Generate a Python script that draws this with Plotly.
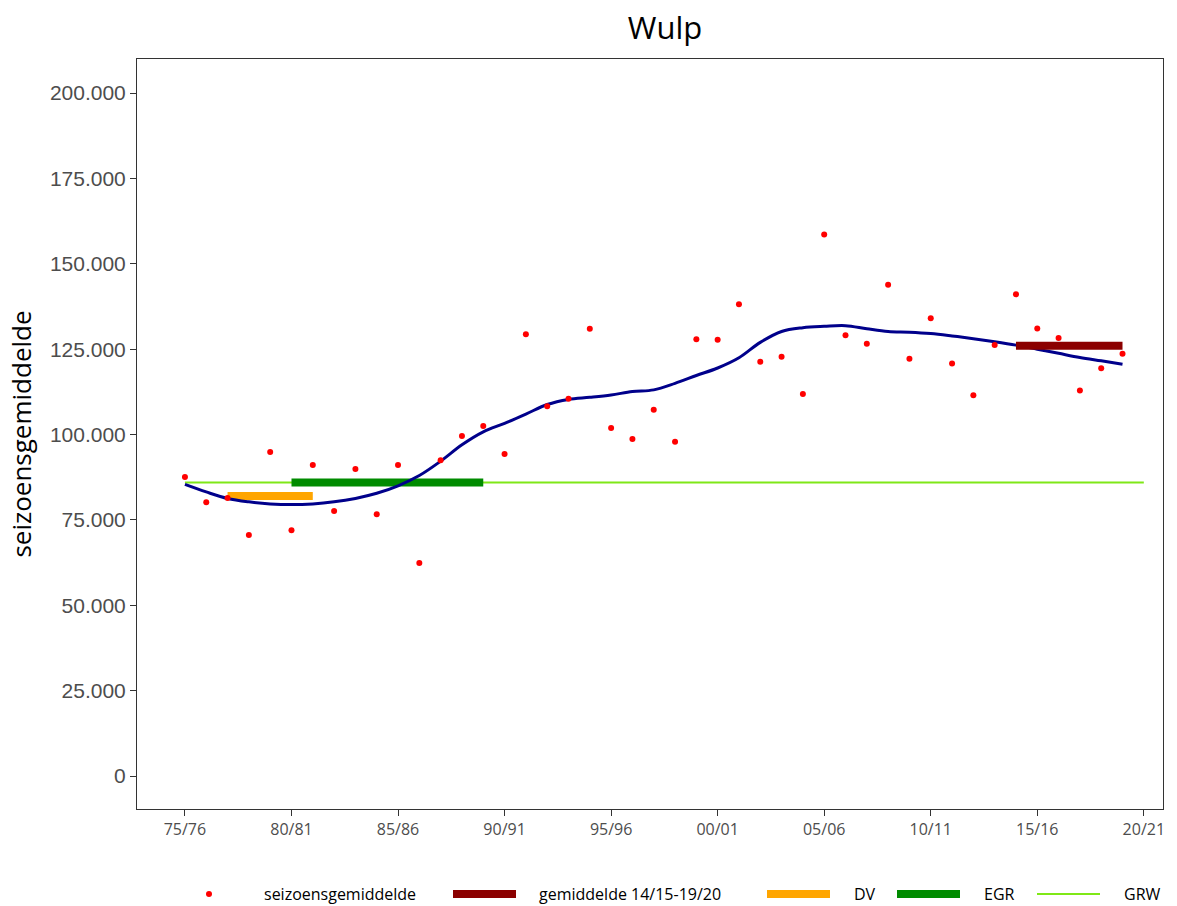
import plotly.graph_objects as go

# season index: 0 = 75/76 ... 44 = 19/20
seasons = list(range(45))
seizoensgemiddelde = [87.6, 80.2, 81.4, 70.6, 94.9, 72.0, 91.1, 77.6, 89.9, 76.7,
                      91.1, 62.4, 92.5, 99.6, 102.5, 94.3, 129.4, 108.3, 110.5, 131.0,
                      101.9, 98.7, 107.3, 97.9, 127.9, 127.8, 138.2, 121.3, 122.8, 111.9,
                      158.6, 129.1, 126.6, 143.9, 122.2, 134.1, 120.8, 111.5, 126.2, 141.1,
                      131.1, 128.3, 112.9, 119.4, 123.7]
seizoensgemiddelde = [v * 1000 for v in seizoensgemiddelde]

trend = [85.4, 83.2, 81.3, 80.3, 79.7, 79.5, 79.7, 80.3, 81.3, 82.8,
         85.0, 88.0, 92.2, 97.0, 100.8, 103.3, 106.0, 108.8, 110.3, 110.9,
         111.6, 112.6, 113.1, 115.0, 117.3, 119.5, 122.5, 127.0, 130.2, 131.3,
         131.7, 131.9, 131.0, 130.2, 130.0, 129.6, 128.9, 128.1, 127.2, 126.2,
         125.0, 123.8, 122.6, 121.6, 120.6]
trend = [v * 1000 for v in trend]

gem_x = [39, 44]
gem_y = [126000, 126000]
dv_x = [2, 6]
dv_y = [82000, 82000]
egr_x = [5, 14]
egr_y = [86000, 86000]
grw_x = [0, 45]
grw_y = [86000, 86000]

xtick_vals = [0, 5, 10, 15, 20, 25, 30, 35, 40, 45]
xtick_text = ["75/76", "80/81", "85/86", "90/91", "95/96", "00/01", "05/06", "10/11", "15/16", "20/21"]
ytick_vals = [0, 25000, 50000, 75000, 100000, 125000, 150000, 175000, 200000]
ytick_text = ["0", "25.000", "50.000", "75.000", "100.000", "125.000", "150.000", "175.000", "200.000"]

legend_names = ["seizoensgemiddelde", "gemiddelde 14/15-19/20", "DV", "EGR", "GRW"]
legend_colors = ["#FF0000", "#8B0000", "#FFA500", "#008B00", "#7FE817"]
legend_widths = [0, 8, 8, 8, 2]

W, H = 1177, 906
ML, MR, MT, MB = 137, 14, 59, 97
PW, PH = W - ML - MR, H - MT - MB

def px(xp):
    return (xp - ML) / PW

def py(yp):
    return (H - MB - yp) / PH

fig = go.Figure()
fig.add_trace(go.Scatter(x=grw_x, y=grw_y, mode="lines", name="GRW", showlegend=False,
                         line=dict(color=legend_colors[4], width=2)))
fig.add_trace(go.Scatter(x=egr_x, y=egr_y, mode="lines", name="EGR", showlegend=False,
                         line=dict(color=legend_colors[3], width=8)))
fig.add_trace(go.Scatter(x=dv_x, y=dv_y, mode="lines", name="DV", showlegend=False,
                         line=dict(color=legend_colors[2], width=8)))
fig.add_trace(go.Scatter(x=seasons, y=trend, mode="lines", showlegend=False,
                         line=dict(color="#00008B", width=3, shape="spline", smoothing=1)))
fig.add_trace(go.Scatter(x=gem_x, y=gem_y, mode="lines", name="gemiddelde 14/15-19/20", showlegend=False,
                         line=dict(color=legend_colors[1], width=8)))
fig.add_trace(go.Scatter(x=seasons, y=seizoensgemiddelde, mode="markers", name="seizoensgemiddelde",
                         showlegend=False, marker=dict(color=legend_colors[0], size=6)))

# manual legend at the bottom (layout, in pixel-derived paper coordinates)
leg_y = 894
key_left = [None, 453, 767, 897, 1037]
text_left = [262, 537, 852, 982, 1122]
shapes = []
annotations = []
for i, name in enumerate(legend_names):
    if i == 0:
        shapes.append(dict(type="circle", xref="paper", yref="paper",
                           x0=px(206), x1=px(212), y0=py(leg_y + 3), y1=py(leg_y - 3),
                           fillcolor=legend_colors[0], line=dict(width=0)))
    else:
        shapes.append(dict(type="line", xref="paper", yref="paper",
                           x0=px(key_left[i]), x1=px(key_left[i] + 63),
                           y0=py(leg_y), y1=py(leg_y),
                           line=dict(color=legend_colors[i], width=legend_widths[i])))
    annotations.append(dict(text=name, xref="paper", yref="paper", x=px(text_left[i]), y=py(leg_y),
                            xanchor="left", yanchor="middle", showarrow=False,
                            font=dict(family="Open Sans", size=16, color="black")))

fig.update_layout(
    width=W, height=H,
    margin=dict(l=ML, r=MR, t=MT, b=MB),
    plot_bgcolor="white", paper_bgcolor="white",
    title=dict(text="Wulp", x=665 / W, xanchor="center", y=1 - 28 / H, yanchor="middle",
               font=dict(family="Open Sans", size=31, color="black")),
    xaxis=dict(range=[-2.25, 45.9], tickvals=xtick_vals, ticktext=xtick_text,
               showgrid=False, zeroline=False, showline=True, mirror=True,
               linecolor="#333333", linewidth=1, ticks="outside", ticklen=6,
               tickcolor="#333333",
               tickfont=dict(family="Open Sans", size=16, color="#4D4D4D")),
    yaxis=dict(range=[-9660, 210000], tickvals=ytick_vals, ticktext=ytick_text,
               showgrid=False, zeroline=False, showline=True, mirror=True,
               linecolor="#333333", linewidth=1, ticks="outside", ticklen=6,
               tickcolor="#333333",
               tickfont=dict(family="Liberation Sans", size=21, color="#4D4D4D"),
               title=dict(text="seizoensgemiddelde", standoff=10,
                          font=dict(family="Open Sans", size=26, color="black"))),
    shapes=shapes,
    annotations=annotations,
    showlegend=False,
)

fig.write_html("out.html", config={"displayModeBar": False},
               post_script="document.body.style.margin='0';")
